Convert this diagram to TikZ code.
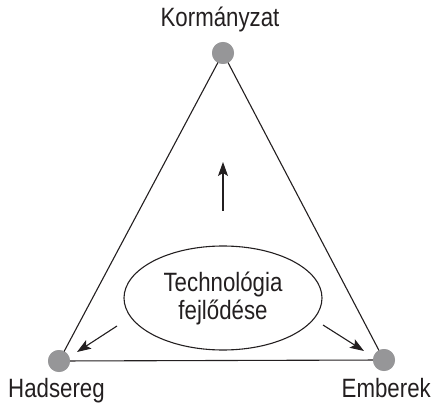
\documentclass[tikz,border=0pt]{standalone}
\usepackage{fontspec}
\setmainfont[FakeStretch=0.84]{Liberation Sans}
\usetikzlibrary{arrows.meta,shapes.geometric}
\definecolor{dotgray}{RGB}{150,150,152}
\definecolor{ink}{RGB}{35,31,32}
\begin{document}
\begin{tikzpicture}[x=1pt,y=-1pt,
  dot/.style={circle,fill=dotgray,inner sep=0pt,minimum size=22pt},
  lbl/.style={font=\fontsize{26.5}{28}\selectfont,inner sep=0pt,text=ink},
  edge/.style={line width=1.1pt,draw=ink},
  arr/.style={line width=1.1pt,draw=ink,fill=ink,-{Stealth[length=14pt,width=10pt,inset=3pt]}}]
\useasboundingbox (0,0) rectangle (432,404);
\node[dot] (k) at (223,53) {};
\node[dot] (h) at (59,361) {};
\node[dot] (e) at (384,360) {};
\draw[edge] (k.center) -- (h.center) -- (e.center) -- cycle;
\node[dot] at (k) {};
\node[dot] at (h) {};
\node[dot] at (e) {};
\node[lbl,anchor=base] (kl) at (220,27) {Kormányzat};
\node[lbl,anchor=base west] (hl) at (8,397) {Hadsereg};
\node[lbl,anchor=base east] (el) at (431,397) {Emberek};
\node[ellipse,draw=ink,line width=1.1pt,minimum width=198pt,minimum height=104pt,inner sep=0pt,
  lbl,align=center] (t) at (223,298) {Technológia\\fejlődése};
\coordinate (u1) at (223,211);
\coordinate (u2) at (223,162);
\coordinate (l1) at (117,326);
\coordinate (l2) at (77,352);
\coordinate (r1) at (323,325);
\coordinate (r2) at (364,351);
\draw[arr] (u1) -- (u2);
\draw[arr] (l1) -- (l2);
\draw[arr] (r1) -- (r2);
\end{tikzpicture}
\end{document}
